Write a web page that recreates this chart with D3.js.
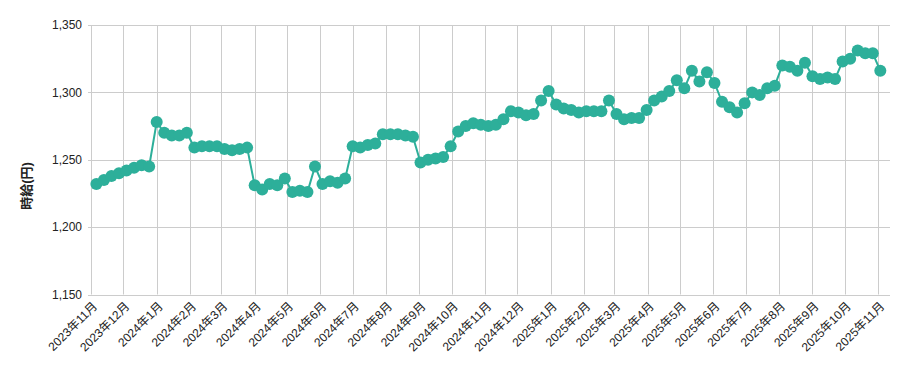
<!DOCTYPE html>
<html>
    <head>
        <meta charset="utf-8">
        <script src="https://d3js.org/d3.v7.min.js"></script>
        <style>
        body { margin: 0; background: #fff; }
        text { font-family: "Liberation Sans", Arial, "Noto Sans CJK JP", sans-serif; }
        </style>
    </head>
    <body>
        <div id="chartContainer"></div>
        <script type="text/javascript">
            // weekly hourly wage (yen), every Monday from 2023-11-06
            var firstWeek = "2023-11-06";
            var wages = [
                1232, 1235, 1238, 1240,
                1242, 1244, 1246, 1245,
                1278, 1270, 1268, 1268, 1270,
                1259, 1260, 1260, 1260,
                1258, 1257, 1258, 1259,
                1231, 1228, 1232, 1231, 1236,
                1226, 1227, 1226, 1245,
                1232, 1234, 1233, 1236,
                1260, 1259, 1261, 1262, 1269,
                1269, 1269, 1268, 1267,
                1248, 1250, 1251, 1252, 1260,
                1271, 1275, 1277, 1276,
                1275, 1276, 1280, 1286,
                1285, 1283, 1284, 1294, 1301,
                1291, 1288, 1287, 1285,
                1286, 1286, 1286, 1294,
                1284, 1280, 1281, 1281, 1287,
                1294, 1297, 1301, 1309,
                1303, 1316, 1308, 1315,
                1307, 1293, 1289, 1285, 1292,
                1300, 1298, 1303, 1305,
                1320, 1319, 1316, 1322,
                1312, 1310, 1311, 1310, 1323,
                1325, 1331, 1329, 1329,
                1316
            ];
            var yTicks = [1150, 1200, 1250, 1300, 1350];
            var yTitle = "時給(円)";

            var width = 909,
                height = 371,
                plotLeft = 91, plotRight = 890, plotTop = 25, plotBottom = 294.5;

            var color = "#2daf9a";

            var svg = d3.select("#chartContainer")
                        .append("svg")
                        .attr("width", width)
                        .attr("height", height);

            var parse = d3.timeParse("%Y-%m-%d");
            var start = parse(firstWeek);
            var data = wages.map(function(v, i) {
                return { date: d3.timeDay.offset(start, i * 7), value: v };
            });

            var x = d3.scaleTime()
                      .domain([parse("2023-11-01"), parse("2025-11-12")])
                      .range([plotLeft, plotRight]);
            var y = d3.scaleLinear()
                      .domain([1150, 1350])
                      .range([plotBottom, plotTop]);

            var months = d3.timeMonth.range(parse("2023-11-01"), parse("2025-11-02"));

            // grid
            var grid = svg.append("g").attr("stroke", "#cccccc").attr("stroke-width", 1);
            grid.selectAll(".h").data(yTicks).enter().append("line")
                .attr("x1", plotLeft - 3).attr("x2", plotRight)
                .attr("y1", function(d) { return Math.round(y(d)) + 0.5; })
                .attr("y2", function(d) { return Math.round(y(d)) + 0.5; });
            grid.selectAll(".v").data(months).enter().append("line")
                .attr("x1", function(d) { return Math.round(x(d)) + 0.5; })
                .attr("x2", function(d) { return Math.round(x(d)) + 0.5; })
                .attr("y1", plotTop).attr("y2", plotBottom);

            // y labels
            svg.append("g").selectAll("text").data(yTicks).enter().append("text")
               .attr("x", 82)
               .attr("y", function(d) { return y(d); })
               .attr("dy", "0.35em")
               .attr("text-anchor", "end")
               .style("font-size", "12px")
               .style("fill", "#222")
               .text(d3.format(","));

            // x labels
            svg.append("g").selectAll("text").data(months).enter().append("text")
               .attr("transform", function(d) {
                   return "translate(" + (x(d) + 7) + "," + 307 + ") rotate(-45)";
               })
               .attr("text-anchor", "end")
               .style("font-size", "12px")
               .style("fill", "#222")
               .text(function(d) { return d.getFullYear() + "年" + (d.getMonth() + 1) + "月"; });

            // y title
            svg.append("text")
               .attr("transform", "translate(31,186) rotate(-90)")
               .attr("text-anchor", "middle")
               .style("font-size", "13px")
               .style("font-weight", "bold")
               .style("fill", "#222")
               .text(yTitle);

            // line + dots
            var line = d3.line()
                         .x(function(d) { return x(d.date); })
                         .y(function(d) { return y(d.value); });

            svg.append("path")
               .datum(data)
               .attr("fill", "none")
               .attr("stroke", color)
               .attr("stroke-width", 2)
               .attr("d", line);

            svg.append("g").selectAll("circle").data(data).enter().append("circle")
               .attr("cx", function(d) { return x(d.date); })
               .attr("cy", function(d) { return y(d.value); })
               .attr("r", 6)
               .attr("fill", color);
        </script>
    </body>
</html>
